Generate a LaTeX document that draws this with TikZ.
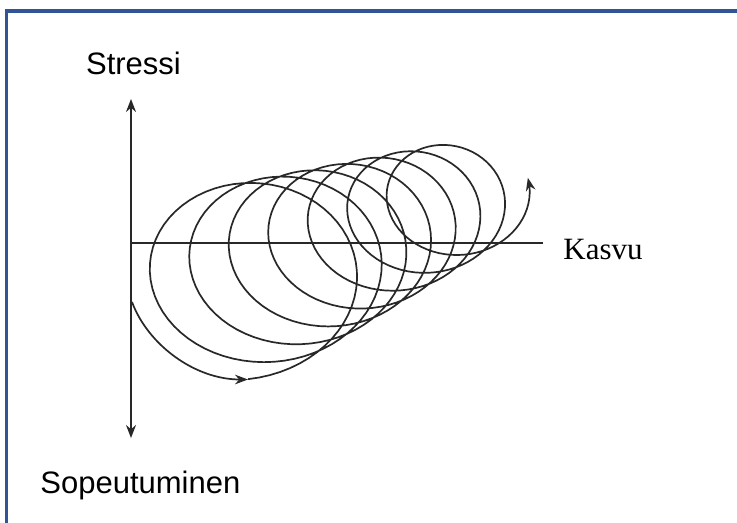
\documentclass[tikz,border=0pt]{standalone}
\usepackage{fontspec}
\setmainfont{Liberation Serif}
\setsansfont{Liberation Sans}
\usetikzlibrary{arrows.meta}
\definecolor{frameblue}{RGB}{47,85,151}
\definecolor{inkgray}{RGB}{40,40,40}

\begin{document}
\begin{tikzpicture}[x=0.5pt,y=-0.5pt,
  axisline/.style={inkgray,line width=0.85pt},
  coil/.style={inkgray,line width=0.85pt},
  headend/.style={-{Stealth[length=6.5pt,width=4.8pt]}},
  lab/.style={inner sep=0pt,font=\fontsize{15.5}{18}\selectfont}]
  \useasboundingbox (0,0) rectangle (737,523);
  % frame
  \draw[frameblue,line width=1.75pt] (6.3,523) -- (6.3,11.2) -- (737,11.2);
  % axes
  \coordinate (up) at (131,99);
  \coordinate (down) at (131,438);
  \coordinate (orig) at (131,243);
  \coordinate (east) at (543,243);
  \draw[axisline,{Stealth[length=6.5pt,width=5pt]}-{Stealth[length=6.5pt,width=5pt]}] (up) -- (down);
  \draw[axisline] (orig) -- (east);
  % coil
  \coordinate (start) at (132,302);
  \coordinate (low) at (248,379.5);
  \draw[coil,headend] (start) .. controls (148,345) and (195,379.5) .. (low);
  \draw[coil,headend] plot[domain=-84:2538,samples=500]
    ({243.6+0.0891*\x+(113.4-0.0206*\x)*cos(\x)},{280-0.0336*\x-(95.5-0.016*\x)*sin(\x)});
  % labels
  \node[lab,anchor=base] (stressi) at (133.5,75) {\sffamily Stressi};
  \node[lab,anchor=base west] (kasvu) at (563,260) {Kasvu};
  \node[lab,anchor=base west] (sopeut) at (40,493) {\sffamily Sopeutuminen};
\end{tikzpicture}
\end{document}
